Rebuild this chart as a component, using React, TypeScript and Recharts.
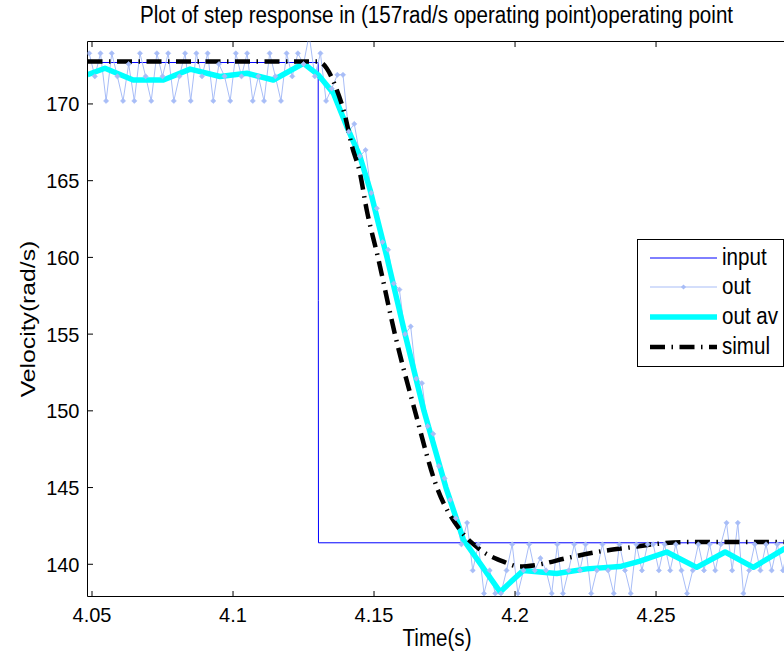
import React from 'react';
import { LineChart, Line, XAxis, YAxis, ReferenceLine, Legend } from 'recharts';

// ---- axes ----
const X_MIN = 4.0484;
const X_MAX = 4.2975;
const Y_MIN = 137.9;
const Y_MAX = 174.07;
const X_TICKS = [4.05, 4.1, 4.15, 4.2, 4.25];
const X_TICK_LABELS = ['4.05', '4.1', '4.15', '4.2', '4.25'];
const Y_TICKS = [140, 145, 150, 155, 160, 165, 170];
const Y_TICK_LABELS = ['140', '145', '150', '155', '160', '165', '170'];

const TITLE = 'Plot of step response in (157rad/s operating point)operating point';
const X_LABEL = 'Time(s)';
const Y_LABEL = 'Velocity(rad/s)';
const SERIES_NAMES = ['input', 'out', 'out av', 'simul'];

// ---- input (reference step) ----
const inputT = [4.0484, 4.1302, 4.13025, 4.1303, 4.2975];
const inputV = [172.7, 172.7, 157.2, 141.4, 141.4];

// ---- out (measured samples) ----
const OUT_T0 = 4.049;
const OUT_DT = 0.002;
const outV = [
  173.3, 171.8, 173.3, 170.2, 173.3, 171.8, 170.2, 172.6, 170.2, 173.3,
  171.8, 170.2, 173.3, 171.8, 173.3, 170.2, 171.8, 173.3, 170.2, 173.3,
  171.8, 173.3, 170.2, 172.6, 171.8, 170.2, 173.3, 171.8, 173.3, 170.2,
  171.8, 170.2, 173.3, 171.8, 170.2, 173.3, 171.8, 173.3, 172.6, 174.5,
  171.8,
  173.3, 170.2, 171.0, 171.9, 171.9, 168.2, 168.7, 166.6, 167.0, 164.2,
  163.2, 161.0, 160.5, 158.3, 157.9, 155.0, 155.5, 152.1, 151.8, 149.0,
  148.5, 146.4, 145.6, 144.2, 143.0, 141.3, 142.7, 139.6, 141.3, 138.1,
  139.6, 138.1, 138.1,
  139.6, 141.3, 138.1, 139.6, 141.3, 139.6, 140.4, 139.6, 138.1, 141.3,
  138.1, 139.6, 141.3, 139.6, 141.3, 138.1, 139.6, 141.3, 139.6, 138.1,
  141.3, 139.6, 138.1, 141.3, 139.6, 141.3, 141.3, 139.6, 141.3, 139.6,
  141.3, 139.6, 138.1, 139.6, 141.3, 139.6, 141.3, 139.6, 141.3, 142.7,
  139.6, 142.7, 138.1, 139.6, 141.3, 139.6, 141.3, 139.6, 141.3, 139.6,
  141.3, 139.6,
];

// ---- out av (moving average) ----
const avT = [
  4.0484, 4.0546, 4.0646, 4.0753, 4.0848, 4.0954, 4.1049, 4.1143, 4.125, 4.1302,
  4.1356, 4.1403, 4.145, 4.1486, 4.1515, 4.1546, 4.161, 4.1677, 4.1755, 4.1817,
  4.1947, 4.2029, 4.2148, 4.2254, 4.2372, 4.2443, 4.2538, 4.2644, 4.2745, 4.2845,
  4.2954, 4.2975,
];
const avV = [
  171.9, 172.33, 171.56, 171.56, 172.27, 171.79, 172.0, 171.56, 172.65, 171.9,
  170.7, 168.54, 166.58, 164.41, 162.26, 160.0, 155.0, 150.0, 145.0, 141.6,
  138.2, 139.6, 139.4, 139.7, 139.85, 140.2, 140.8, 139.8, 140.8, 139.8,
  141.0, 141.1,
];

// ---- simul ----
const simT = [
  4.0484, 4.1302, 4.1332, 4.1362, 4.1397, 4.1421, 4.145, 4.1474, 4.1514, 4.1574,
  4.1645, 4.1722, 4.1805, 4.187, 4.1959, 4.2018, 4.2077, 4.2183, 4.229, 4.2408,
  4.2514, 4.2609, 4.2975,
];
const simV = [
  172.76, 172.76, 172.33, 171.2, 169.25, 167.3, 165.5, 163.1, 160.0, 155.0,
  150.0, 145.06, 142.24, 141.04, 140.17, 139.85, 139.96, 140.4, 140.8, 141.1,
  141.35, 141.45, 141.45,
];

const COLORS = { input: '#0000ff', out: '#a8bdf7', av: '#00ffff', simul: '#000000' };
const FONT = '"Liberation Sans", Arial, Helvetica, sans-serif';
const SIM_DASH = '15 6.5 1.5 6.5';

const inputData = inputT.map((t, i) => ({ t, v: inputV[i] }));
const outData = outV.map((v, i) => ({ t: OUT_T0 + i * OUT_DT, v }));
const avData = avT.map((t, i) => ({ t, v: avV[i] }));
const simData = simT.map((t, i) => ({ t, v: simV[i] }));

const XTick = (props: any) => {
  const { x, y, payload } = props;
  const idx = X_TICKS.indexOf(payload.value);
  const label = idx >= 0 ? X_TICK_LABELS[idx] : String(payload.value);
  return (
    <g>
      <line x1={x} x2={x} y1={y} y2={y - 5.5} stroke="#000" strokeWidth={1} />
      <text
        transform={`translate(${x},${y + 25.2}) scale(1,1.05)`}
        textAnchor="middle"
        fontSize={20}
        fontFamily={FONT}
        fill="#000"
      >
        {label}
      </text>
    </g>
  );
};

const YTick = (props: any) => {
  const { x, y, payload } = props;
  const idx = Y_TICKS.indexOf(payload.value);
  const label = idx >= 0 ? Y_TICK_LABELS[idx] : String(payload.value);
  return (
    <g>
      <line x1={x} x2={x + 5.5} y1={y} y2={y} stroke="#000" strokeWidth={1} />
      <text
        transform={`translate(${x - 8},${y + 7.5}) scale(1,1.05)`}
        textAnchor="end"
        fontSize={20}
        fontFamily={FONT}
        fill="#000"
      >
        {label}
      </text>
    </g>
  );
};

const OutDot = (props: any) => {
  const { cx, cy, index } = props;
  if (cx == null || cy == null) return <g key={`od${index}`} />;
  const r = 2.6;
  return (
    <path
      key={`od${index}`}
      d={`M${cx},${cy - r}L${cx + r},${cy}L${cx},${cy + r}L${cx - r},${cy}Z`}
      fill={COLORS.out}
      stroke={COLORS.out}
      strokeWidth={0.6}
    />
  );
};

const LegendBox = () => {
  const rows = [19, 48, 78, 108];
  return (
    <svg width={147} height={128} style={{ display: 'block' }}>
      <rect x={0.5} y={0.5} width={146} height={127} fill="#fff" stroke="#000" strokeWidth={1} />
      <line x1={13} x2={80} y1={rows[0]} y2={rows[0]} stroke={COLORS.input} strokeWidth={1} />
      <line x1={13} x2={80} y1={rows[1]} y2={rows[1]} stroke={COLORS.out} strokeWidth={1} />
      <path d={`M46.5,${rows[1] - 2.6}L49.1,${rows[1]}L46.5,${rows[1] + 2.6}L43.9,${rows[1]}Z`} fill={COLORS.out} />
      <line x1={13} x2={80} y1={rows[2]} y2={rows[2]} stroke={COLORS.av} strokeWidth={5.5} />
      <line x1={13} x2={80} y1={rows[3]} y2={rows[3]} stroke={COLORS.simul} strokeWidth={4.5} strokeDasharray={SIM_DASH} />
      {SERIES_NAMES.map((n, i) => (
        <text
          key={n}
          transform={`translate(85,${rows[i] + 6.7}) scale(1,1.2)`}
          fontSize={20.6}
          fontFamily={FONT}
          fill="#000"
        >
          {n}
        </text>
      ))}
    </svg>
  );
};

export default function App() {
  return (
    <div
      style={{
        position: 'fixed',
        left: 0,
        top: 0,
        width: 784,
        height: 657,
        overflow: 'hidden',
        background: '#fff',
        fontFamily: FONT,
      }}
    >
      <LineChart width={800} height={657} margin={{ top: 41.5, right: 10, bottom: 0, left: 0 }}>
        <XAxis
          dataKey="t"
          type="number"
          domain={[X_MIN, X_MAX]}
          ticks={X_TICKS}
          interval={0}
          allowDataOverflow
          height={60.5}
          tickSize={0}
          tickMargin={0}
          tickLine={false}
          axisLine={{ stroke: '#000', strokeWidth: 1 }}
          tick={(p: any) => <XTick {...p} />}
        />
        <YAxis
          type="number"
          domain={[Y_MIN, Y_MAX]}
          ticks={Y_TICKS}
          interval={0}
          allowDataOverflow
          width={87.5}
          tickSize={0}
          tickMargin={0}
          tickLine={false}
          axisLine={{ stroke: '#000', strokeWidth: 1 }}
          tick={(p: any) => <YTick {...p} />}
        />
        <ReferenceLine y={Y_MAX} stroke="#000" strokeWidth={1} />
        {X_TICKS.map((xv) => (
          <ReferenceLine
            key={`tt${xv}`}
            segment={[
              { x: xv, y: Y_MAX },
              { x: xv, y: Y_MAX - 0.36 },
            ]}
            stroke="#000"
            strokeWidth={1}
          />
        ))}
        <Line
          data={inputData}
          dataKey="v"
          name={SERIES_NAMES[0]}
          type="linear"
          stroke={COLORS.input}
          strokeWidth={1}
          dot={false}
          activeDot={false}
          isAnimationActive={false}
        />
        <Line
          data={outData}
          dataKey="v"
          name={SERIES_NAMES[1]}
          type="linear"
          stroke={COLORS.out}
          strokeWidth={1}
          dot={(p: any) => <OutDot {...p} key={`od${p.index}`} />}
          activeDot={false}
          isAnimationActive={false}
        />
        <Line
          data={avData}
          dataKey="v"
          name={SERIES_NAMES[2]}
          type="linear"
          stroke={COLORS.av}
          strokeWidth={5.5}
          strokeLinejoin="round"
          dot={false}
          activeDot={false}
          isAnimationActive={false}
        />
        <Line
          data={simData}
          dataKey="v"
          name={SERIES_NAMES[3]}
          type="monotone"
          stroke={COLORS.simul}
          strokeWidth={4.5}
          strokeDasharray={SIM_DASH}
          dot={false}
          activeDot={false}
          isAnimationActive={false}
        />
        <Legend
          layout="horizontal"
          verticalAlign="middle"
          align="center"
          wrapperStyle={{ left: 637, top: 239, width: 147, height: 128, margin: 0, padding: 0 }}
          content={() => <LegendBox />}
        />
      </LineChart>
      <svg
        width={784}
        height={657}
        style={{ position: 'absolute', left: 0, top: 0, pointerEvents: 'none' }}
      >
        <text transform="translate(436.5,23.3) scale(1,1.2)" textAnchor="middle" fontSize={20.6} fontFamily={FONT} fill="#000">
          {TITLE}
        </text>
        <text transform="translate(437,646) scale(1,1.2)" textAnchor="middle" fontSize={20.6} fontFamily={FONT} fill="#000">
          {X_LABEL}
        </text>
        <text transform="translate(35,319) scale(1,1.2) rotate(-90)" textAnchor="middle" fontSize={20.6} fontFamily={FONT} fill="#000">
          {Y_LABEL}
        </text>
      </svg>
    </div>
  );
}
